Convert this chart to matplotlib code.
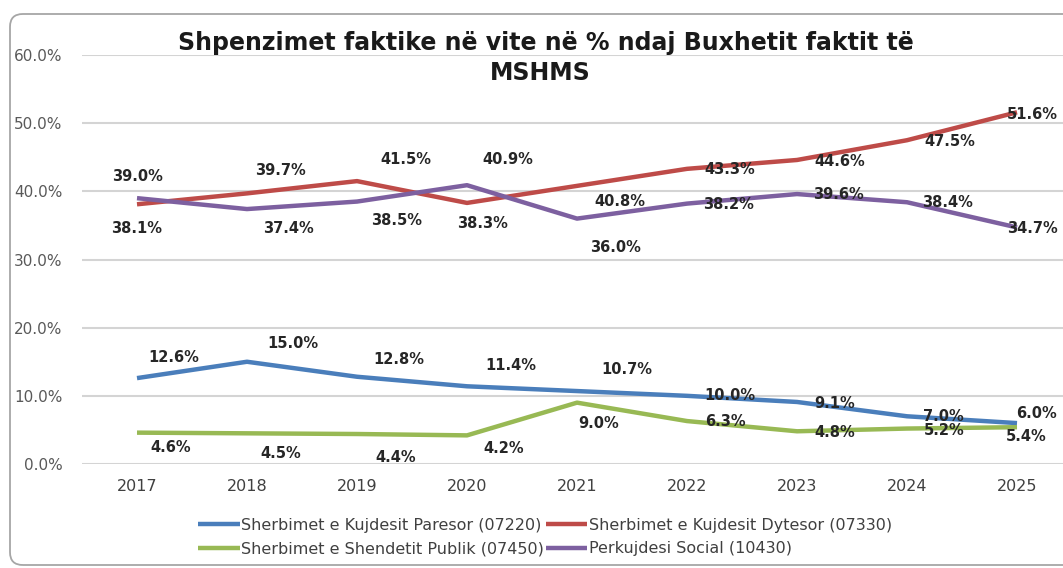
import numpy as np
import matplotlib.pyplot as plt
from matplotlib.patches import FancyBboxPatch

# te dhenat
vitet = ['2017', '2018', '2019', '2020', '2021', '2022', '2023', '2024', '2025']
paresor = [12.6, 15.0, 12.8, 11.4, 10.7, 10.0, 9.1, 7.0, 6.0]
dytesor = [38.1, 39.7, 41.5, 38.3, 40.8, 43.3, 44.6, 47.5, 51.6]
publik = [4.6, 4.5, 4.4, 4.2, 9.0, 6.3, 4.8, 5.2, 5.4]
social = [39.0, 37.4, 38.5, 40.9, 36.0, 38.2, 39.6, 38.4, 34.7]

emrat = ['Sherbimet e Kujdesit Paresor (07220)',
         'Sherbimet e Kujdesit Dytesor (07330)',
         'Sherbimet e Shendetit Publik (07450)',
         'Perkujdesi Social (10430)']

# zhvendosja e etiketave (dx ne kategori, dy ne %)
off_paresor = [(0.33, 3.0), (0.42, 2.7), (0.38, 2.5), (0.40, 3.1), (0.45, 3.2),
               (0.39, 0.0), (0.34, -0.2), (0.33, 0.0), (0.18, 1.4)]
off_dytesor = [(0.0, -3.5), (0.30, 3.3), (0.44, 3.1), (0.14, -3.0), (0.39, -2.3),
               (0.39, -0.1), (0.39, -0.2), (0.39, -0.2), (0.14, -0.3)]
off_publik = [(0.31, -2.2), (0.31, -2.9), (0.35, -3.4), (0.33, -1.9), (0.20, -3.1),
              (0.35, -0.1), (0.34, -0.2), (0.34, -0.25), (0.08, -1.3)]
off_social = [(0.0, 3.2), (0.38, -2.8), (0.36, -2.8), (0.37, 3.7), (0.35, -4.2),
              (0.38, -0.1), (0.38, 0.0), (0.37, -0.1), (0.14, -0.1)]

ngjyrat = ['#4a7ebb', '#be4b48', '#98b954', '#7d60a0']

fig = plt.figure(figsize=(10.63, 5.68), dpi=100)
ax = fig.add_axes([82 / 1063, 104 / 568, 981 / 1063, 409 / 568])

# korniza e rrumbullaket
kornize = FancyBboxPatch((10 / 1063, 3 / 568), 1.2, 551 / 568,
                         boxstyle='round,pad=0,rounding_size=0.012',
                         transform=fig.transFigure, fc='none', ec='#a6a6a6',
                         lw=1.3, mutation_aspect=1063 / 568, zorder=0)
fig.patches.append(kornize)

x = np.arange(len(vitet))
seri = [paresor, dytesor, publik, social]
zhv = [off_paresor, off_dytesor, off_publik, off_social]
vijat = []
for s, c, e in zip(seri, ngjyrat, emrat):
    l, = ax.plot(x, s, color=c, lw=3.2, label=e, solid_capstyle='butt', zorder=3)
    vijat.append(l)

for s, o in zip(seri, zhv):
    for i, v in enumerate(s):
        ax.text(x[i] + o[i][0], v + o[i][1], f'{v:.1f}%', ha='center', va='center',
                fontsize=10.5, fontweight='bold', color='#262626', zorder=4)

ax.set_xlim(-0.5, 8.418)
ax.set_ylim(0, 60)
ax.set_yticks(np.arange(0, 61, 10))
ax.set_yticklabels([f'{t:.1f}%' for t in np.arange(0, 61, 10)])
ax.set_xticks(x)
ax.set_xticklabels(vitet)
ax.tick_params(axis='y', length=0, pad=14, labelsize=11, labelcolor='#595959')
ax.tick_params(axis='x', length=0, pad=11, labelsize=11.5, labelcolor='#404040')
ax.grid(axis='y', color='#d4d4d4', lw=1.5)
ax.set_axisbelow(True)
for sp in ax.spines.values():
    sp.set_visible(False)
ax.patch.set_alpha(0)

fig.text(546 / 1063, 1 - 43 / 568, 'Shpenzimet faktike në vite në % ndaj Buxhetit faktit të',
         ha='center', va='center', fontsize=17, fontweight='bold', color='#1a1a1a')
fig.text(540 / 1063, 1 - 73 / 568, 'MSHMS', ha='center', va='center',
         fontsize=17, fontweight='bold', color='#1a1a1a')

fig.legend([vijat[0], vijat[2], vijat[1], vijat[3]],
           [emrat[0], emrat[2], emrat[1], emrat[3]],
           ncol=2, loc='center', bbox_to_anchor=(545 / 1063, 1 - 537 / 568),
           frameon=False, fontsize=11.5, handlelength=2.6, handletextpad=0.1,
           columnspacing=0.1, labelspacing=0.55, labelcolor='#404040')

fig.savefig('out.png', dpi=100)
